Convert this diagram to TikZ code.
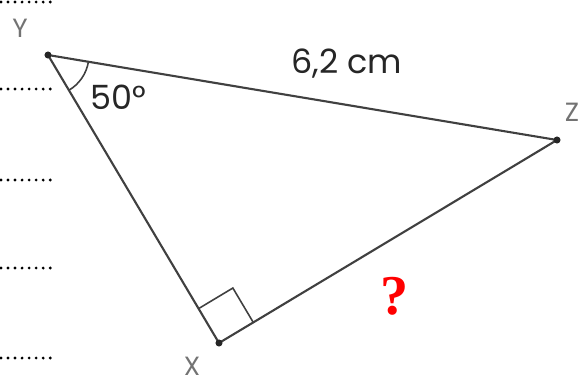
\documentclass[tikz,border=0pt]{standalone}
\usepackage{fontspec}
\newfontfamily\labelfont{Poppins}
\newfontfamily\qfont{Liberation Serif}
\usetikzlibrary{calc}

\tikzset{
  side/.style={line width=1.2pt,black!75},
  vertex/.style={circle,fill=black!85,inner sep=0pt,minimum size=4pt},
  vname/.style={text=black!55,font=\labelfont\fontsize{15}{15}\selectfont},
  measure/.style={text=black!85,font=\labelfont\fontsize{19}{19}\selectfont},
  answerline/.style={line width=1.8pt,dash pattern=on 0pt off 4pt,line cap=round}
}

\begin{document}
\begin{tikzpicture}[x=0.02cm,y=-0.02cm]
\useasboundingbox (0,0) rectangle (581,383);
% writing lines at the left
\foreach \h/\n in {2/a,89/b,180/c,268/d,358/e}
  \draw[answerline] (1,\h) coordinate (\n1) -- (52,\h) coordinate (\n2);
% triangle
\coordinate (Y) at (48,55);
\coordinate (Z) at (557,140);
\coordinate (X) at (219,343);
\draw[side] (Y)--(Z)--(X)--cycle;
\node[vertex] at (Y) {}; \node[vertex] at (Z) {}; \node[vertex] at (X) {};
% angle at Y and right angle at X
\draw[side,line width=0.9pt] ($(Y)!0.82cm!(Z)$) arc[start angle=-9.5,end angle=-59.5,radius=0.82cm];
\draw[side,line width=0.9pt] ($(X)!0.8cm!(Y)$) -- ($($(X)!0.8cm!(Y)$)+($(X)!0.8cm!(Z)$)-(X)$) -- ($(X)!0.8cm!(Z)$);
% labels
\node[vname,inner sep=1pt] (nY) at (20,28) {Y};
\node[vname,inner sep=1pt] (nZ) at (572,112) {Z};
\node[vname,inner sep=1pt] (nX) at (192,366) {X};
\node[measure] (len) at (347,64) {6,2 cm};
\node[measure] (ang) at (118,97) {50°};
\node[text=red,font=\qfont\bfseries\fontsize{32}{32}\selectfont] (q) at (395,296) {?};
\end{tikzpicture}
\end{document}
